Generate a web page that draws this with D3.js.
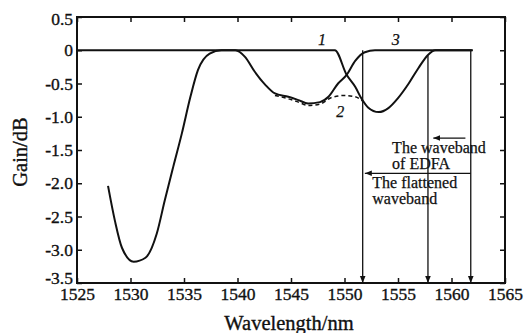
<!DOCTYPE html>
<html>
<head>
<meta charset="utf-8">
<script src="https://cdn.jsdelivr.net/npm/d3@7"></script>
<style>
  body { margin: 0; background: #fff; }
</style>
</head>
<body>
<div id="d1"></div>
<script>
// curve 3 (solid, the big dip then flat)
const curve3 = [
  [1527.9, -2.04], [1528.55, -2.57], [1529.2, -2.97], [1530.3, -3.18], [1531.4, -3.12],
  [1532.45, -2.76], [1533.2, -2.26], [1534.0, -1.75], [1534.8, -1.25], [1535.6, -0.70],
  [1536.3, -0.30], [1537.4, -0.05], [1538.5, 0], [1539.8, 0], [1540.7, -0.10],
  [1541.6, -0.32], [1542.6, -0.52], [1543.5, -0.65], [1544.75, -0.70], [1545.7, -0.75],
  [1546.6, -0.80], [1547.7, -0.78], [1548.5, -0.70], [1549.4, -0.50], [1550.2, -0.37],
  [1551.0, -0.16], [1551.9, -0.03], [1552.85, 0], [1562, 0]
];
// curve 1 (flat, falls, second dip, flat)
const curve1 = [
  [1525, 0], [1549.1, 0], [1550.2, -0.37], [1551.0, -0.55], [1551.6, -0.73],
  [1552.2, -0.86], [1553.2, -0.93], [1554.1, -0.87], [1555.0, -0.72], [1556.0, -0.50],
  [1556.9, -0.27], [1557.8, -0.07], [1558.5, 0], [1561.9, 0]
];
// curve 2 (dashed)
const curve2 = [
  [1543.5, -0.68], [1544.75, -0.73], [1545.7, -0.78], [1546.6, -0.83], [1547.7, -0.81],
  [1548.8, -0.71], [1550.0, -0.68], [1551.0, -0.70], [1551.8, -0.78]
];

const xTicks = [1525, 1530, 1535, 1540, 1545, 1550, 1555, 1560, 1565];
const yTicks = [0.5, 0, -0.5, -1.0, -1.5, -2.0, -2.5, -3.0, -3.5];
const yTickLabels = ["0.5", "0", "-0.5", "-1.0", "-1.5", "-2.0", "-2.5", "-3.0", "-3.5"];

// vertical arrows: wavelength, start gain
const bandLines = [[1551.7, 0], [1557.8, -0.08], [1561.8, 0]];
// horizontal arrows: from, to (arrow tip), gain
const bandArrows = [[1561.3, 1558.3, -1.32], [1561.8, 1551.9, -1.85]];
const notes = [
  { t: "The waveband", x: 1554.45, y: -1.55 },
  { t: "of EDFA", x: 1554.45, y: -1.79 },
  { t: "The flattened", x: 1552.6, y: -2.07 },
  { t: "waveband", x: 1552.6, y: -2.31 }
];
const curveLabels = [
  { t: "1", x: 1547.9, y: 0.08 },
  { t: "2", x: 1549.6, y: -1.0 },
  { t: "3", x: 1554.8, y: 0.08 }
];

const serif = "'Liberation Serif', 'Times New Roman', serif";
const width = 527, height = 333;
const margin = { top: 17, right: 22, bottom: 50, left: 77 };

const x = d3.scaleLinear().domain([1525, 1565]).range([margin.left, width - margin.right]);
const y = d3.scaleLinear().domain([-3.5, 0.5]).range([height - margin.bottom, margin.top]);

const svg = d3.select("#d1").append("svg")
  .attr("width", width).attr("height", height)
  .attr("viewBox", [0, 0, width, height])
  .style("font-family", serif);

// a little stroke makes the thin serif look like the scanned print
function ink(t, w = 0.35) {
  t.attr("fill", "#111").attr("stroke", "#111").attr("stroke-width", w);
}

const defs = svg.append("defs");
defs.append("marker")
  .attr("id", "arr")
  .attr("viewBox", "0 0 10 10")
  .attr("refX", 10).attr("refY", 5)
  .attr("markerWidth", 7).attr("markerHeight", 7)
  .attr("markerUnits", "userSpaceOnUse")
  .attr("orient", "auto")
  .append("path").attr("d", "M0,1L10,5L0,9Z").attr("fill", "#111");

// axes with inward ticks
svg.append("g")
  .attr("transform", `translate(0,${y(-3.5)})`)
  .call(d3.axisBottom(x).tickValues(xTicks).tickSizeInner(-5).tickSizeOuter(0).tickPadding(5).tickFormat(d3.format("d")))
  .call(g => g.select(".domain").remove())
  .call(g => g.selectAll("text").style("font-family", serif).style("font-size", "17.5px").call(ink));

svg.append("g")
  .attr("transform", `translate(0,${y(0.5)})`)
  .call(d3.axisTop(x).tickValues(xTicks).tickSizeInner(-5).tickSizeOuter(0).tickFormat(""))
  .call(g => g.select(".domain").remove());

svg.append("g")
  .attr("transform", `translate(${x(1525)},0)`)
  .call(d3.axisLeft(y).tickValues(yTicks).tickSizeInner(-5).tickSizeOuter(0).tickPadding(4)
    .tickFormat((d, i) => yTickLabels[i]))
  .call(g => g.select(".domain").remove())
  .call(g => g.selectAll("text").style("font-family", serif).style("font-size", "17.5px").call(ink))
  .call(g => g.selectAll(".tick text").filter(d => d === -3.5).attr("dy", "0.05em"))
  .call(g => g.selectAll(".tick text").filter(d => d === 0.5).attr("dy", "0.45em"));

svg.append("g")
  .attr("transform", `translate(${x(1565)},0)`)
  .call(d3.axisRight(y).tickValues(yTicks).tickSizeInner(-5).tickSizeOuter(0).tickFormat(""))
  .call(g => g.select(".domain").remove());

svg.selectAll(".tick line").attr("stroke", "#111").attr("stroke-width", 1.5);

svg.append("rect")
  .attr("x", x(1525)).attr("y", y(0.5))
  .attr("width", x(1565) - x(1525)).attr("height", y(-3.5) - y(0.5))
  .attr("fill", "none").attr("stroke", "#111").attr("stroke-width", 2);

// axis titles
svg.append("text")
  .attr("x", 289).attr("y", 330)
  .attr("text-anchor", "middle").style("font-size", "20.5px").call(ink)
  .text("Wavelength/nm");

svg.append("text")
  .attr("transform", `translate(27,${(y(0.5) + y(-3.5)) / 2 + 2}) rotate(-90)`)
  .attr("text-anchor", "middle").style("font-size", "20.5px").call(ink)
  .text("Gain/dB");

// curves
const line = d3.line()
  .curve(d3.curveMonotoneX)
  .x(d => x(d[0]))
  .y(d => y(d[1]));

svg.append("path").datum(curve2)
  .attr("fill", "none").attr("stroke", "#111").attr("stroke-width", 1.5)
  .attr("stroke-dasharray", "4,3").attr("d", line);

[curve3, curve1].forEach(c => {
  svg.append("path").datum(c)
    .attr("fill", "none").attr("stroke", "#111").attr("stroke-width", 2)
    .attr("stroke-linejoin", "round").attr("d", line);
});

// band lines
svg.append("g").selectAll("line")
  .data(bandLines)
  .join("line")
  .attr("x1", d => x(d[0])).attr("x2", d => x(d[0]))
  .attr("y1", d => y(d[1])).attr("y2", y(-3.5))
  .attr("stroke", "#111").attr("stroke-width", 1.3)
  .attr("marker-end", "url(#arr)");

svg.append("g").selectAll("line")
  .data(bandArrows)
  .join("line")
  .attr("x1", d => x(d[0])).attr("x2", d => x(d[1]))
  .attr("y1", d => y(d[2])).attr("y2", d => y(d[2]))
  .attr("stroke", "#111").attr("stroke-width", 1.3)
  .attr("marker-end", "url(#arr)");

svg.append("g").selectAll("text")
  .data(notes)
  .join("text")
  .attr("x", d => x(d.x)).attr("y", d => y(d.y))
  .style("font-size", "16px").call(ink, 0.25)
  .text(d => d.t);

svg.append("g").selectAll("text")
  .data(curveLabels)
  .join("text")
  .attr("x", d => x(d.x)).attr("y", d => y(d.y))
  .attr("text-anchor", "middle")
  .style("font-size", "16px").style("font-style", "italic").call(ink, 0.25)
  .text(d => d.t);
</script>
</body>
</html>
